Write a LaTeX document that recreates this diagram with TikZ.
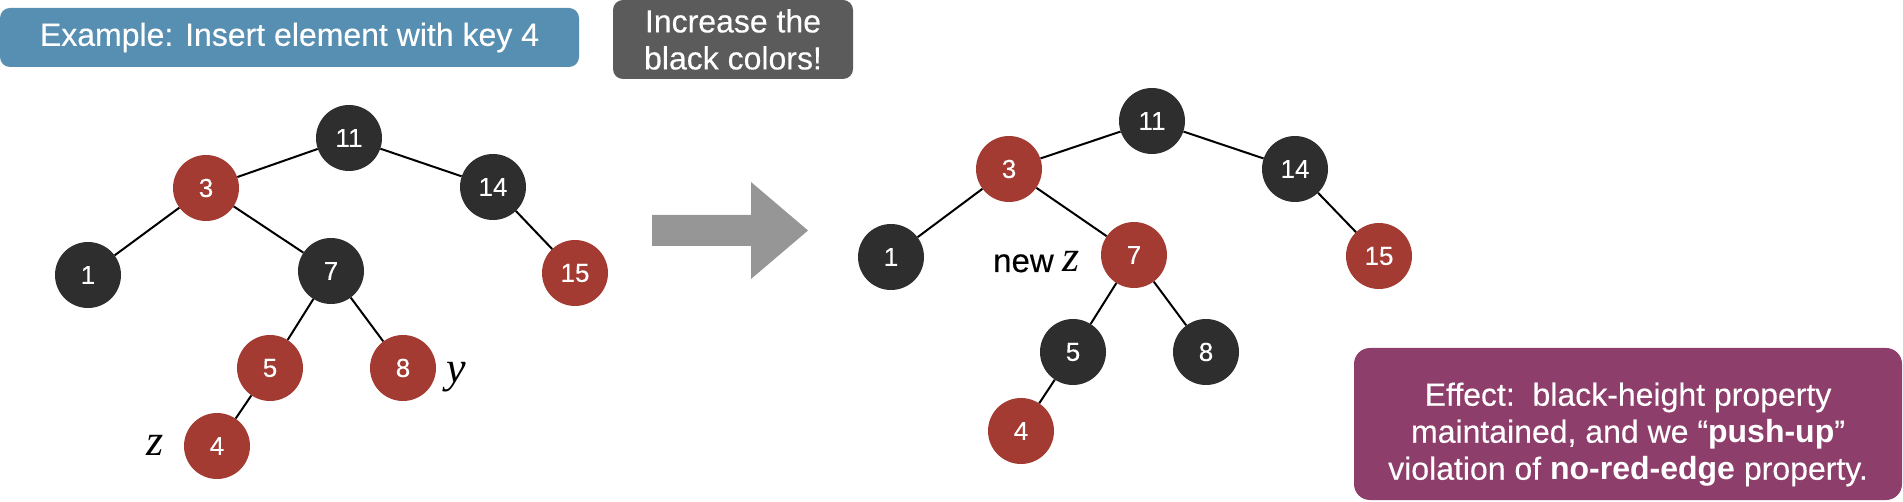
\documentclass[tikz,border=0pt]{standalone}
\usepackage{fontspec}
\setmainfont{Liberation Sans}[UprightFeatures={FakeBold=0.3}]
\newfontfamily\timesfont{Liberation Serif}
\definecolor{boxblue}{HTML}{578FB2}
\definecolor{boxgray}{HTML}{5B5B5B}
\definecolor{boxpurple}{HTML}{8E3E6A}
\definecolor{nodered}{HTML}{A33B33}
\definecolor{nodeblack}{HTML}{2E2E2E}
\definecolor{arrowgray}{HTML}{969696}
\tikzset{
  rbnode/.style={circle, minimum size=66pt, inner sep=0pt, text=white,
    font=\fontsize{26}{30}\selectfont},
  rednode/.style={rbnode, fill=nodered},
  blacknode/.style={rbnode, fill=nodeblack},
  treeedge/.style={draw=black, line width=2pt},
  infobox/.style={rounded corners=10pt, inner sep=0pt, text=white,
    font=\fontsize{32}{37}\selectfont, align=center},
  varlabel/.style={inner sep=0pt, anchor=base,
    font=\timesfont\itshape\fontsize{44}{44}\selectfont},
}
\begin{document}
\begin{tikzpicture}[x=1pt, y=-1pt]
\useasboundingbox (0,0) rectangle (1903,502);

% top boxes
\node (example) [infobox, fill=boxblue, minimum width=579pt, minimum height=59pt]
  at (289.5,37.5) {Example: Insert element with key 4};
\node (increase) [infobox, fill=boxgray, minimum width=240pt, minimum height=79pt]
  at (733,39.5) {Increase the\\black colors!};

% left tree
\node (l11) [blacknode] at (349,138) {11};
\node (l3)  [rednode]   at (206,188) {3};
\node (l14) [blacknode] at (493,187) {14};
\node (l1)  [blacknode] at (88,275)  {1};
\node (l7)  [blacknode] at (331,271) {7};
\node (l15) [rednode]   at (575,273) {15};
\node (l5)  [rednode]   at (270,368) {5};
\node (l8)  [rednode]   at (403,368) {8};
\node (l4)  [rednode]   at (217,446) {4};
\draw[treeedge] (l11) -- (l3);
\draw[treeedge] (l11) -- (l14);
\draw[treeedge] (l3) -- (l1);
\draw[treeedge] (l3) -- (l7);
\draw[treeedge] (l14) -- (l15);
\draw[treeedge] (l7) -- (l5);
\draw[treeedge] (l7) -- (l8);
\draw[treeedge] (l5) -- (l4);
\node (lz) [varlabel] at (155,455) {z};
\node (ly) [varlabel] at (456,382) {y};

% big arrow
\fill[arrowgray] (652,215) -- (751,215) -- (751,182) -- (808,230.5)
  -- (751,279) -- (751,246) -- (652,246) -- cycle;

% right tree
\node (r11) [blacknode] at (1152,121) {11};
\node (r3)  [rednode]   at (1009,169) {3};
\node (r14) [blacknode] at (1295,169) {14};
\node (r1)  [blacknode] at (891,257)  {1};
\node (r7)  [rednode]   at (1134,255) {7};
\node (r15) [rednode]   at (1379,256) {15};
\node (r5)  [blacknode] at (1073,352) {5};
\node (r8)  [blacknode] at (1206,352) {8};
\node (r4)  [rednode]   at (1021,431) {4};
\draw[treeedge] (r11) -- (r3);
\draw[treeedge] (r11) -- (r14);
\draw[treeedge] (r3) -- (r1);
\draw[treeedge] (r3) -- (r7);
\draw[treeedge] (r14) -- (r15);
\draw[treeedge] (r7) -- (r5);
\draw[treeedge] (r7) -- (r8);
\draw[treeedge] (r5) -- (r4);
\node (newz) [inner sep=0pt, anchor=base west, font=\fontsize{33}{33}\selectfont]
  at (993,272) {new {\timesfont\itshape\fontsize{44}{44}\selectfont z}};

% effect box
\node (effectbox) [fill=boxpurple, rounded corners=16pt, minimum width=548pt,
  minimum height=152pt, inner sep=0pt] at (1628,424) {};
\node (effect) [inner sep=0pt, text=white, align=center,
  font=\fontsize{32}{37}\selectfont] at (1628,434.5)
  {Effect:\ \ black-height property\\maintained, and we “\textbf{push-up}”\\violation of \textbf{no-red-edge} property.};
\end{tikzpicture}
\end{document}
